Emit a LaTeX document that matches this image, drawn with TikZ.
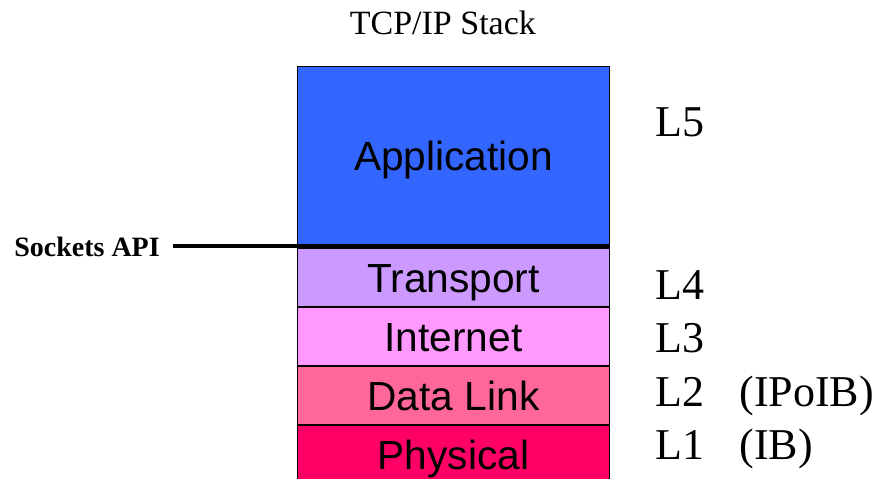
\documentclass[tikz,border=0pt]{standalone}
\usepackage{fontspec}
\setmainfont{Liberation Serif}
\newfontfamily\arialfont{Liberation Sans}
\usetikzlibrary{positioning}
\definecolor{appblue}{HTML}{3366FF}
\definecolor{transviolet}{HTML}{CC99FF}
\definecolor{netpink}{HTML}{FF99FF}
\definecolor{linkrose}{HTML}{FF6699}
\definecolor{phyred}{HTML}{FF0066}

\begin{document}
\begin{tikzpicture}[x=0.75pt,y=-0.75pt,
  layer/.style={draw=black,line width=0.8pt,minimum width=234pt,minimum height=43.5pt,inner sep=0pt,text height=22pt,text depth=0pt,font=\arialfont\fontsize{30.5}{36}\selectfont},
  lnum/.style={inner sep=0pt,text height=26pt,text depth=13.75pt,font=\fontsize{33}{40}\selectfont},
  api/.style={line width=2.5pt}]
\clip (0,0) rectangle (881,478);
\node[layer,fill=appblue,minimum height=134.2pt,anchor=north west] (app) at (297,66) {Application};
\node[layer,fill=transviolet,below=1.5pt of app] (trans) {Transport};
\node[layer,fill=netpink,below=0pt of trans] (inet) {Internet};
\node[layer,fill=linkrose,below=0pt of inet] (link) {Data Link};
\node[layer,fill=phyred,below=0pt of link] (phys) {Physical};
\node[above=23.25pt of app,anchor=base,xshift=-8pt,font=\fontsize{25.5}{30}\selectfont] (title) {TCP/IP Stack};
\node[left=93pt of app.south west,inner xsep=9.75pt,inner ysep=0pt,text height=15pt,text depth=0pt,font=\bfseries\fontsize{21}{25}\selectfont] (sock) {Sockets API};
\node[lnum,anchor=base west] (l5) at ([xshift=33.75pt,yshift=-52.5pt]app.north east) {L5};
\node[lnum,anchor=base west] (l4) at ([xshift=33.75pt,yshift=-16.1pt]trans.east) {L4};
\node[lnum,below=0pt of l4.south west,anchor=north west] (l3) {L3};
\node[lnum,below=0pt of l3.south west,anchor=north west] (l2) {L2\hspace{26.5pt}(IPoIB)};
\node[lnum,below=0pt of l2.south west,anchor=north west] (l1) {L1\hspace{26.5pt}(IB)};
\draw[api] (sock.east) -- (app.south east);
\end{tikzpicture}
\end{document}
